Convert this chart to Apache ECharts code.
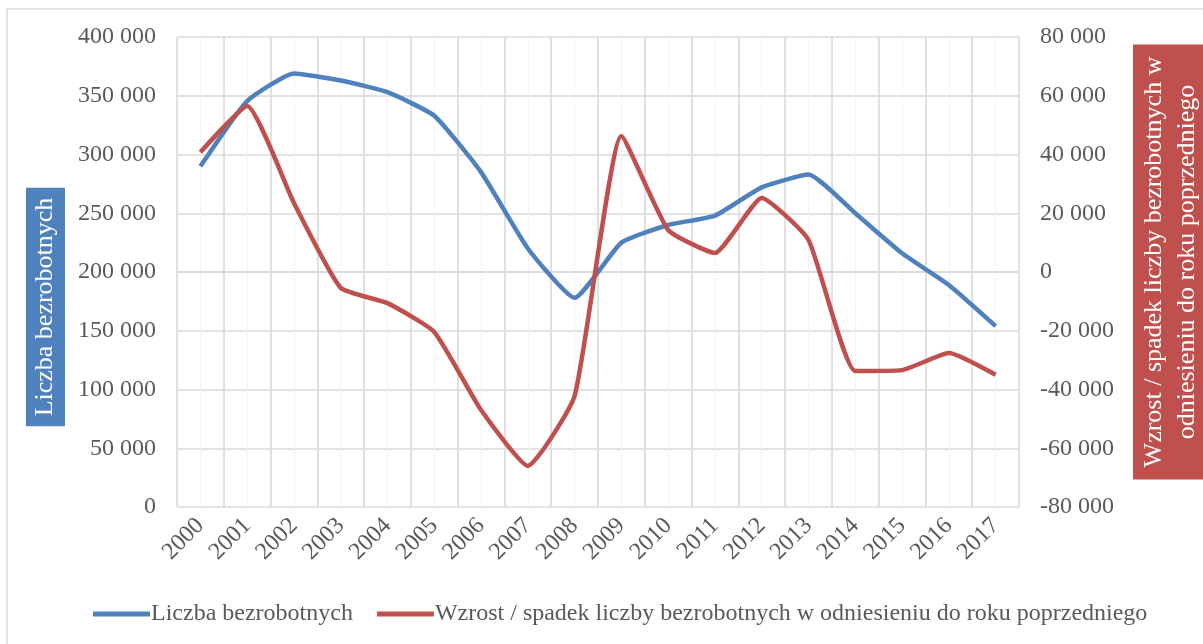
<!DOCTYPE html>
<html>
<head>
<meta charset="utf-8">
<script src="https://cdn.jsdelivr.net/npm/echarts@6/dist/echarts.min.js"></script>
<style>
  html, body { margin: 0; padding: 0; background: #fff; }
  #chart { width: 1203px; height: 644px; }
</style>
</head>
<body>
<div id="chart"></div>
<script>
var years = ['2000', '2001', '2002', '2003', '2004', '2005', '2006', '2007', '2008',
             '2009', '2010', '2011', '2012', '2013', '2014', '2015', '2016', '2017'];
// liczba bezrobotnych (lewa oś)
var unemployed = [290000, 345500, 369000, 363000, 353000, 333000, 285000, 220000, 178000,
                  225000, 240000, 248000, 272000, 283000, 250000, 216000, 189000, 154000];
// wzrost / spadek r/r (prawa oś)
var change = [40800, 56500, 23500, -5400, -10600, -20400, -47000, -66000, -42200,
              46300, 14300, 6500, 25200, 10900, -33700, -33400, -27600, -35000];

var nameLeft = 'Liczba bezrobotnych';
var nameRight = 'Wzrost / spadek liczby bezrobotnych w odniesieniu do roku poprzedniego';

var serif = '"Liberation Serif", "DejaVu Serif", serif';

function fmt(v) {
  return String(v).replace(/\B(?=(\d{3})+(?!\d))/g, ' ');
}

var chart = echarts.init(document.getElementById('chart'));

var option = {
  animation: false,
  backgroundColor: '#fff',
  grid: { left: 177, right: 184, top: 37, bottom: 137, outerBoundsMode: 'none', containLabel: false },
  legend: {
    left: 88,
    top: 597,
    itemWidth: 57,
    itemHeight: 5,
    itemGap: 24,
    icon: 'rect',
    textStyle: { fontFamily: serif, fontSize: 24, color: '#595959', padding: [0, 0, 0, -4] },
    data: [nameLeft, nameRight]
  },
  xAxis: [{
    // cienkie linie co pół kategorii
    type: 'value', min: 0, max: 18, interval: 0.5,
    position: 'top',
    show: true,
    axisLine: { show: false }, axisTick: { show: false }, axisLabel: { show: false },
    splitLine: { show: true, lineStyle: { color: '#f2f2f2', width: 1 } }
  }, {
    type: 'category',
    data: years,
    position: 'bottom',
    boundaryGap: true,
    z: 1,
    axisLine: { show: true, lineStyle: { color: '#d9d9d9', width: 1.5 } },
    axisTick: { show: false },
    splitLine: { show: true, lineStyle: { color: '#d9d9d9', width: 1.5 } },
    axisLabel: {
      rotate: 45, interval: 0, margin: 15,
      fontFamily: serif, fontSize: 24, color: '#595959'
    }
  }],
  yAxis: [{
    type: 'value', min: 0, max: 400000, interval: 50000,
    axisLine: { show: false }, axisTick: { show: false },
    splitLine: { lineStyle: { color: '#d9d9d9', width: 1.5 } },
    axisLabel: { margin: 21, fontFamily: serif, fontSize: 24, color: '#595959', formatter: fmt }
  }, {
    type: 'value', min: -80000, max: 80000, interval: 20000,
    axisLine: { show: false }, axisTick: { show: false },
    splitLine: { show: false },
    axisLabel: { margin: 21, fontFamily: serif, fontSize: 24, color: '#595959', formatter: fmt }
  }],
  series: [{
    name: nameLeft,
    type: 'line',
    xAxisIndex: 1,
    yAxisIndex: 0,
    data: unemployed,
    smooth: 0.15,
    symbol: 'none',
    itemStyle: { color: '#4f81bd' },
    lineStyle: { color: '#4f81bd', width: 4.5 }
  }, {
    name: nameRight,
    type: 'line',
    xAxisIndex: 1,
    yAxisIndex: 1,
    data: change,
    smooth: 0.15,
    symbol: 'none',
    itemStyle: { color: '#c0504d' },
    lineStyle: { color: '#c0504d', width: 4.5 }
  }],
  graphic: [{
    type: 'rect',
    silent: true,
    shape: { x: 7, y: 9, width: 1210, height: 650 },
    style: { fill: null, stroke: '#d9d9d9', lineWidth: 1.5 }
  }, {
    type: 'text',
    x: 45.5, y: 307,
    rotation: Math.PI / 2,
    style: {
      text: nameLeft,
      font: '26px ' + serif,
      fill: '#fff',
      align: 'center',
      verticalAlign: 'middle',
      backgroundColor: '#4f81bd',
      lineHeight: 31,
      padding: [4, 10, 4, 10]
    }
  }, {
    type: 'text',
    x: 1171, y: 262,
    rotation: Math.PI / 2,
    style: {
      text: 'Wzrost / spadek liczby bezrobotnych w\nodniesieniu do roku poprzedniego',
      font: '26px ' + serif,
      fill: '#fff',
      align: 'center',
      verticalAlign: 'middle',
      backgroundColor: '#c0504d',
      lineHeight: 33,
      padding: [5, 12, 5, 12]
    }
  }]
};

chart.setOption(option);
</script>
</body>
</html>
